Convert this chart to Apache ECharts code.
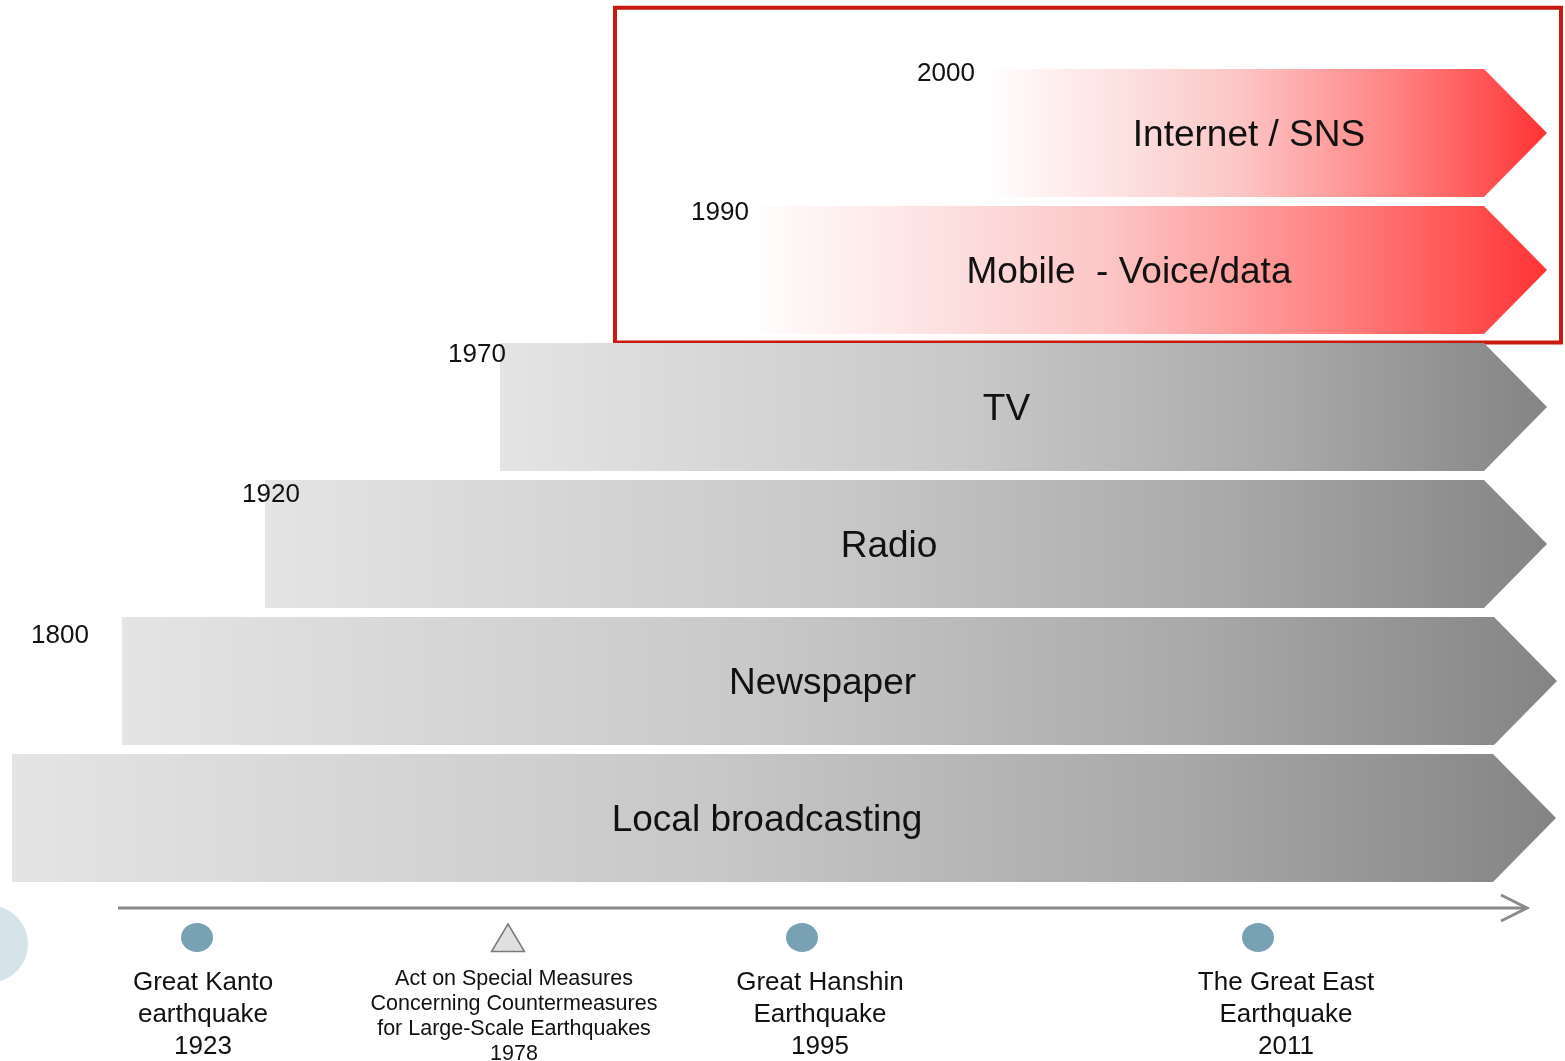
<!DOCTYPE html>
<html>
<head>
<meta charset="utf-8">
<title>Media timeline</title>
<script src="https://cdn.jsdelivr.net/npm/echarts/dist/echarts.min.js"></script>
<style>
html, body { margin: 0; padding: 0; background: #fff; }
#main { width: 1565px; height: 1061px; }
</style>
</head>
<body>
<div id="main"></div>
<script>
// media rows, top to bottom
const mediaNames = ['Internet / SNS', 'Mobile  - Voice/data', 'TV', 'Radio', 'Newspaper', 'Local broadcasting'];
const mediaYears = ['2000', '1990', '1970', '1920', '1800', ''];
const mediaStart = [985, 745, 500, 265, 122, 12];
const mediaEnd = [1547, 1547, 1547, 1547, 1557, 1556];
const mediaHighlight = [true, true, false, false, false, false];
const yearLabelAt = [946, 720, 477, 271, 60, 0];

// events on the timeline
const eventNames = [
    'Great Kanto\nearthquake\n1923',
    'Act on Special Measures\nConcerning Countermeasures\nfor Large-Scale Earthquakes\n1978',
    'Great Hanshin\nEarthquake\n1995',
    'The Great East\nEarthquake\n2011'
];
const eventKinds = ['quake', 'law', 'quake', 'quake'];
const eventAt = [197, 508, 802, 1258];
const eventLabelAt = [203, 514, 820, 1286];
const timelineSpan = [118, 1527];
const highlightSpan = [615, 1561];

// layout / style
const FONT = '"Liberation Sans", Arial, sans-serif';
const TIP = 63;
const YEAR_DY = [-59, -57, -52, -49, -45, 0];
const GRAY_STOPS = [
    { offset: 0, color: '#e4e4e4' },
    { offset: 0.45, color: '#c8c8c8' },
    { offset: 0.75, color: '#a9a9a9' },
    { offset: 1, color: '#848484' }
];
const RED_STOPS = [
    { offset: 0, color: '#ffffff' },
    { offset: 0.1, color: '#fff2f2' },
    { offset: 0.25, color: '#fde0e0' },
    { offset: 0.45, color: '#fcc6c6' },
    { offset: 0.7, color: '#ff8a8a' },
    { offset: 0.85, color: '#ff6060' },
    { offset: 1, color: '#ff3333' }
];

function renderMedia(params, api) {
    const i = params.dataIndex;
    const s = api.coord([api.value(0), i]);
    const e = api.coord([api.value(1), i]);
    const band = api.size([0, 1])[1];
    const h = band * 0.934;
    const cy = s[1];
    const top = cy - h / 2, bottom = cy + h / 2;
    const x0 = s[0], x1 = e[0], xb = x1 - TIP;
    const children = [{
        type: 'polygon',
        shape: { points: [[x0, top], [xb, top], [x1, cy], [xb, bottom], [x0, bottom]] },
        style: {
            fill: { type: 'linear', x: 0, y: 0, x2: 1, y2: 0, colorStops: mediaHighlight[i] ? RED_STOPS : GRAY_STOPS }
        }
    }, {
        type: 'text',
        style: {
            text: mediaNames[i], x: (x0 + x1) / 2 - 17, y: cy + 3,
            align: 'center', verticalAlign: 'middle',
            font: '37px ' + FONT, fill: '#111'
        }
    }];
    if (mediaYears[i]) {
        children.push({
            type: 'text',
            style: {
                text: mediaYears[i], x: api.coord([yearLabelAt[i], i])[0], y: cy + YEAR_DY[i],
                align: 'center', verticalAlign: 'middle',
                font: '26px ' + FONT, fill: '#111'
            }
        });
    }
    return { type: 'group', children: children };
}

function renderBox(params, api) {
    const band = api.size([0, 1])[1];
    const l = api.coord([api.value(0), 0]);
    const r = api.coord([api.value(1), 1]);
    const top = l[1] - band * 0.915;
    const bottom = r[1] + band * 0.53;
    return {
        type: 'rect',
        shape: { x: l[0], y: top, width: r[0] - l[0], height: bottom - top },
        style: { fill: 'none', stroke: '#c81a0e', lineWidth: 4 }
    };
}

function renderTimeline(params, api) {
    const a = api.coord([api.value(0), 0]);
    const b = api.coord([api.value(1), 0]);
    return {
        type: 'group',
        children: [{
            type: 'line',
            shape: { x1: a[0], y1: a[1], x2: b[0] - 2, y2: b[1] },
            style: { stroke: '#8a8a8a', lineWidth: 3 }
        }, {
            type: 'polyline',
            shape: { points: [[b[0] - 26, b[1] - 13], [b[0], b[1]], [b[0] - 26, b[1] + 13]] },
            style: { stroke: '#8a8a8a', lineWidth: 3, fill: 'none' }
        }]
    };
}

function renderEvent(params, api) {
    const i = params.dataIndex;
    const p = api.coord([api.value(0), 0]);
    const my = p[1] + 29.5;
    const law = eventKinds[i] === 'law';
    const marker = law ? {
        type: 'polygon',
        shape: { points: [[p[0], my - 13.5], [p[0] + 16.5, my + 14], [p[0] - 16.5, my + 14]] },
        style: { fill: '#e0e0e0', stroke: '#7a7a7a', lineWidth: 1.5 }
    } : {
        type: 'ellipse',
        shape: { cx: p[0], cy: my, rx: 16, ry: 14.5 },
        style: { fill: '#78a2b3' }
    };
    return {
        type: 'group',
        children: [marker, {
            type: 'text',
            style: {
                text: eventNames[i], x: api.coord([eventLabelAt[i], 0])[0], y: p[1] + 59,
                align: 'center', verticalAlign: 'top',
                font: (law ? '21.5px ' : '26px ') + FONT,
                lineHeight: law ? 25 : 32, fill: '#111'
            }
        }]
    };
}

const chart = echarts.init(document.getElementById('main'));
chart.setOption({
    animation: false,
    backgroundColor: '#fff',
    graphic: [{
        type: 'ellipse',
        shape: { cx: -12, cy: 944, rx: 40, ry: 39 },
        style: { fill: '#d6e4ea' },
        silent: true
    }],
    grid: [
        { left: 0, right: 0, top: 64.5, height: 822 },
        { left: 0, right: 0, top: 896, height: 24 }
    ],
    xAxis: [
        { type: 'value', gridIndex: 0, min: 0, max: 1565, show: false },
        { type: 'value', gridIndex: 1, min: 0, max: 1565, show: false }
    ],
    yAxis: [
        { type: 'category', gridIndex: 0, data: mediaNames, inverse: true, show: false },
        { type: 'category', gridIndex: 1, data: ['timeline'], show: false }
    ],
    series: [{
        type: 'custom',
        name: 'highlight',
        xAxisIndex: 0, yAxisIndex: 0,
        silent: true, z: 1,
        renderItem: renderBox,
        data: [highlightSpan]
    }, {
        type: 'custom',
        name: 'media',
        xAxisIndex: 0, yAxisIndex: 0,
        silent: true, z: 2,
        renderItem: renderMedia,
        encode: { x: [0, 1], y: 2 },
        data: mediaNames.map((n, i) => [mediaStart[i], mediaEnd[i], i])
    }, {
        type: 'custom',
        name: 'timeline',
        xAxisIndex: 1, yAxisIndex: 1,
        silent: true, z: 2,
        renderItem: renderTimeline,
        data: [timelineSpan]
    }, {
        type: 'custom',
        name: 'events',
        xAxisIndex: 1, yAxisIndex: 1,
        silent: true, z: 3,
        renderItem: renderEvent,
        data: eventAt.map(x => [x, 0])
    }]
});
</script>
</body>
</html>
